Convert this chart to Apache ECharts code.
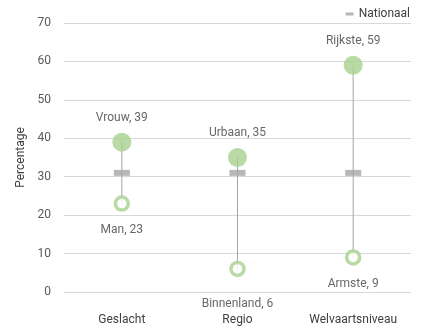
<!DOCTYPE html>
<html><head><meta charset="utf-8">
<script src="https://cdn.jsdelivr.net/npm/echarts@6/dist/echarts.min.js"></script>
<style>html,body{margin:0;padding:0;background:#fff}#c{width:427px;height:329px}</style>
</head><body><div id="c"></div>
<script>
var categories = ['Geslacht', 'Regio', 'Welvaartsniveau'];
var highNames = ['Vrouw', 'Urbaan', 'Rijkste'];
var highValues = [39, 35, 59];
var lowNames = ['Man', 'Binnenland', 'Armste'];
var lowValues = [23, 6, 9];
var nationaal = [31, 31, 31];
var yTicks = [0, 10, 20, 30, 40, 50, 60, 70];

var FONT = 'Roboto';
var chart = echarts.init(document.getElementById('c'));
var rangeData = categories.map(function (c, i) { return [i, lowValues[i], highValues[i]]; });
var lowData = lowValues.map(function (v, i) {
  return i === 1 ? { value: v, label: { distance: 21 } } : v;
});
chart.setOption({
  animation: false,
  textStyle: { fontFamily: FONT },
  grid: { left: 64, right: 16, top: 23, bottom: 37 },
  legend: {
    data: [{ name: 'Nationaal', icon: 'rect' }],
    right: 12, top: 3, itemWidth: 8, itemHeight: 3, itemGap: 3,
    textStyle: { color: '#404040', fontSize: 12, fontFamily: FONT }
  },
  xAxis: {
    type: 'category', data: categories,
    axisLine: { show: false }, axisTick: { show: false },
    axisLabel: { color: '#404040', fontSize: 12, margin: 22 }
  },
  yAxis: {
    type: 'value', min: yTicks[0], max: yTicks[yTicks.length - 1], interval: 10,
    name: 'Percentage', nameLocation: 'middle', nameGap: 30, nameRotate: 90,
    nameTextStyle: { color: '#404040', fontSize: 12 },
    axisLabel: { color: '#595959', fontSize: 12, margin: 13 },
    splitLine: { lineStyle: { color: '#d9d9d9' } },
    axisLine: { show: false }, axisTick: { show: false }
  },
  series: [
    {
      type: 'custom', name: 'range', z: 1,
      data: rangeData,
      renderItem: function (params, api) {
        var a = api.coord([api.value(0), api.value(1)]);
        var b = api.coord([api.value(0), api.value(2)]);
        return { type: 'line', shape: { x1: a[0], y1: a[1], x2: b[0], y2: b[1] },
          style: { stroke: '#a6a6a6', lineWidth: 1 } };
      }
    },
    {
      type: 'scatter', name: 'Nationaal', z: 3,
      data: nationaal, symbol: 'rect', symbolSize: [16, 6],
      itemStyle: { color: '#a6a6a6' }
    },
    {
      type: 'scatter', name: 'Hoog', z: 4,
      data: highValues, symbol: 'circle', symbolSize: 19,
      itemStyle: { color: '#a9d18e' },
      label: { show: true, position: 'top', distance: 9, color: '#404040', fontSize: 12,
        formatter: function (p) { return highNames[p.dataIndex] + ', ' + p.value; } }
    },
    {
      type: 'scatter', name: 'Laag', z: 4,
      data: lowData, symbol: 'circle', symbolSize: 13,
      itemStyle: { color: '#ffffff', borderColor: '#a9d18e', borderWidth: 3.5 },
      label: { show: true, position: 'bottom', distance: 12, color: '#404040', fontSize: 12,
        formatter: function (p) { return lowNames[p.dataIndex] + ', ' + p.value; } }
    }
  ]
});
</script></body></html>
